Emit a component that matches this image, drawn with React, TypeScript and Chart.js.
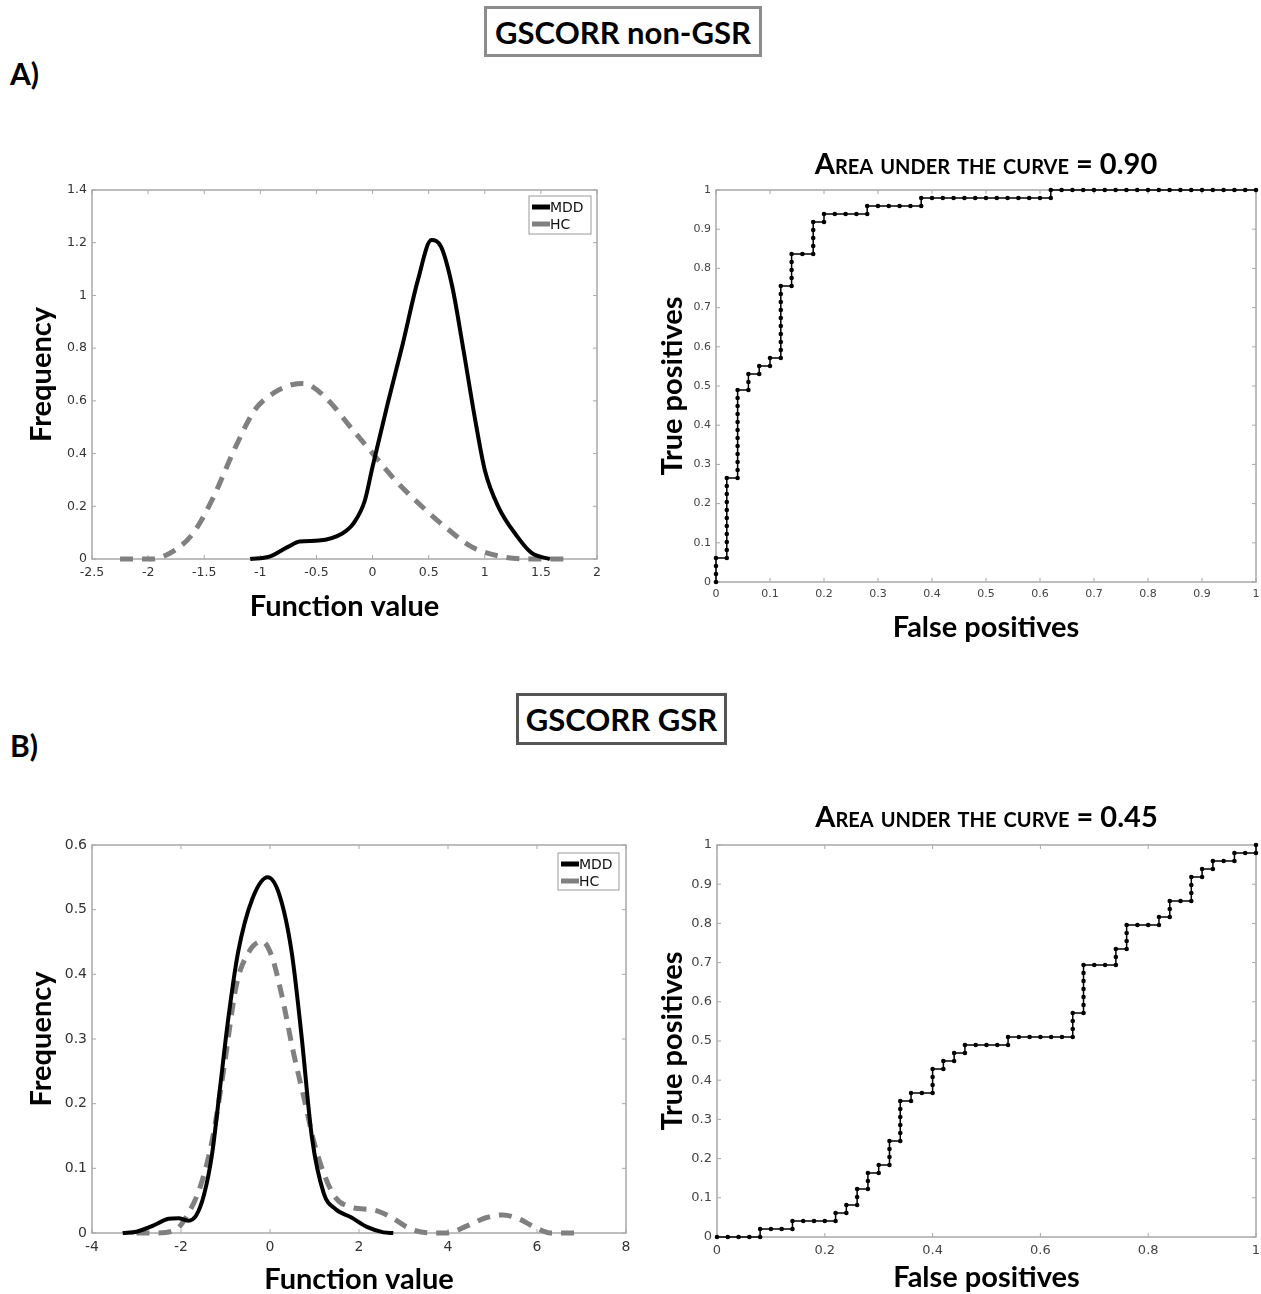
import React, { useEffect, useRef } from "react";
import { Chart, registerables } from "chart.js";

Chart.register(...registerables);

// ---------- Panel A: density of the discriminant function ----------
const densA_MDD_x = [-1.09, -0.92, -0.75, -0.65, -0.48, -0.27, -0.17, -0.07, 0.0, 0.135, 0.27, 0.405, 0.525, 0.61, 0.71, 0.81, 0.915, 1.0, 1.12, 1.29, 1.42, 1.58];
const densA_MDD_y = [0, 0.009, 0.047, 0.066, 0.07, 0.097, 0.135, 0.22, 0.35, 0.59, 0.818, 1.06, 1.21, 1.185, 1.034, 0.793, 0.527, 0.338, 0.199, 0.085, 0.022, 0];
const densA_HC_x = [-2.25, -1.97, -1.76, -1.6, -1.43, -1.22, -1.05, -0.88, -0.71, -0.62, -0.54, -0.37, -0.2, 0.0, 0.2, 0.44, 0.68, 0.88, 1.15, 1.39, 1.73];
const densA_HC_y = [0, 0, 0.034, 0.097, 0.224, 0.426, 0.565, 0.63, 0.662, 0.666, 0.655, 0.591, 0.502, 0.401, 0.3, 0.199, 0.11, 0.047, 0.009, 0, 0];

// ---------- Panel B: density of the discriminant function ----------
const densB_MDD_x = [-3.31, -3.0, -2.64, -2.28, -2.06, -1.84, -1.66, -1.48, -1.3, -1.12, -0.94, -0.72, -0.4, -0.05, 0.22, 0.49, 0.71, 0.94, 1.21, 1.47, 1.83, 2.19, 2.55, 2.77];
const densB_MDD_y = [0, 0.002, 0.011, 0.022, 0.023, 0.019, 0.027, 0.06, 0.123, 0.226, 0.33, 0.433, 0.516, 0.55, 0.521, 0.433, 0.304, 0.149, 0.061, 0.037, 0.024, 0.009, 0.001, 0];
const densB_HC_x = [-3.0, -2.55, -2.1, -1.84, -1.57, -1.3, -1.03, -0.76, -0.49, -0.18, 0.04, 0.27, 0.53, 0.76, 0.98, 1.21, 1.47, 1.83, 2.37, 2.73, 3.17, 3.62, 3.98, 4.43, 4.87, 5.23, 5.59, 5.95, 6.3, 6.84];
const densB_HC_y = [0, 0, 0.006, 0.03, 0.071, 0.143, 0.257, 0.382, 0.433, 0.451, 0.428, 0.366, 0.278, 0.21, 0.143, 0.092, 0.055, 0.04, 0.035, 0.024, 0.006, 0, 0, 0.011, 0.024, 0.028, 0.022, 0.009, 0, 0];

// ---------- ROC curves: (false-positive count, true-positive count) ----------
const ROC_NEGATIVES = 50;
const ROC_POSITIVES = 49;
const rocA_points: [number, number][] = [
  [0, 0], [0, 1], [0, 2], [0, 3], [1, 3], [1, 4], [1, 5], [1, 6], [1, 7], [1, 8], [1, 9], [1, 10], [1, 11], [1, 12], [1, 13],
  [2, 13], [2, 14], [2, 15], [2, 16], [2, 17], [2, 18], [2, 19], [2, 20], [2, 21], [2, 22], [2, 23], [2, 24],
  [3, 24], [3, 25], [3, 26], [4, 26], [4, 27], [5, 27], [5, 28], [6, 28], [6, 29], [6, 30], [6, 31], [6, 32], [6, 33], [6, 34], [6, 35], [6, 36], [6, 37],
  [7, 37], [7, 38], [7, 39], [7, 40], [7, 41], [8, 41], [9, 41], [9, 42], [9, 43], [9, 44], [9, 45], [10, 45], [10, 46],
  [11, 46], [12, 46], [13, 46], [14, 46], [14, 47], [15, 47], [16, 47], [17, 47], [18, 47], [19, 47], [19, 48],
  [20, 48], [21, 48], [22, 48], [23, 48], [24, 48], [25, 48], [26, 48], [27, 48], [28, 48], [29, 48], [30, 48], [31, 48], [31, 49],
  [32, 49], [33, 49], [34, 49], [35, 49], [36, 49], [37, 49], [38, 49], [39, 49], [40, 49], [41, 49], [42, 49], [43, 49], [44, 49], [45, 49], [46, 49], [47, 49], [48, 49], [49, 49], [50, 49],
];
const rocB_points: [number, number][] = [
  [0, 0], [1, 0], [2, 0], [3, 0], [4, 0], [4, 1], [5, 1], [6, 1], [7, 1], [7, 2], [8, 2], [9, 2], [10, 2], [11, 2], [11, 3],
  [12, 3], [12, 4], [13, 4], [13, 5], [13, 6], [14, 6], [14, 7], [14, 8], [15, 8], [15, 9], [16, 9], [16, 10], [16, 11], [16, 12],
  [17, 12], [17, 13], [17, 14], [17, 15], [17, 16], [17, 17], [18, 17], [18, 18], [19, 18], [20, 18], [20, 19], [20, 20], [20, 21],
  [21, 21], [21, 22], [22, 22], [22, 23], [23, 23], [23, 24], [24, 24], [25, 24], [26, 24], [27, 24], [27, 25],
  [28, 25], [29, 25], [30, 25], [31, 25], [32, 25], [33, 25], [33, 26], [33, 27], [33, 28], [34, 28],
  [34, 29], [34, 30], [34, 31], [34, 32], [34, 33], [34, 34], [35, 34], [36, 34], [37, 34], [37, 35], [37, 36],
  [38, 36], [38, 37], [38, 38], [38, 39], [39, 39], [40, 39], [41, 39], [41, 40], [42, 40], [42, 41], [42, 42],
  [43, 42], [44, 42], [44, 43], [44, 44], [44, 45], [45, 45], [45, 46], [46, 46], [46, 47], [47, 47], [48, 47], [48, 48], [49, 48], [50, 48], [50, 49],
];

const seriesLabels = ["MDD", "HC"];
const aucA = "Area under the curve = 0.90";
const aucB = "Area under the curve = 0.45";

const BIG_FONT = "Lato, 'Open Sans', sans-serif";
const TICK_FONT = "'DejaVu Sans', sans-serif";

const fmtTick = (v: any) => `${Math.round(Number(v) * 100) / 100}`;

// frame + inward ticks (MATLAB-like box)
const framePlugin = {
  id: "frameBox",
  beforeDatasetsDraw(chart: any) {
    const { ctx, chartArea } = chart;
    const { left, right, top, bottom } = chartArea;
    ctx.save();
    ctx.strokeStyle = "#a8a8a8";
    ctx.lineWidth = 1.5;
    ctx.setLineDash([]);
    ctx.strokeRect(left, top, right - left, bottom - top);
    ctx.lineWidth = 1;
    const xs = chart.scales.x;
    const ys = chart.scales.y;
    const tl = 4;
    xs.ticks.forEach((t: any) => {
      const px = xs.getPixelForValue(t.value);
      ctx.beginPath();
      ctx.moveTo(px, bottom); ctx.lineTo(px, bottom - tl);
      ctx.moveTo(px, top); ctx.lineTo(px, top + tl);
      ctx.stroke();
    });
    ys.ticks.forEach((t: any) => {
      const py = ys.getPixelForValue(t.value);
      ctx.beginPath();
      ctx.moveTo(left, py); ctx.lineTo(left + tl, py);
      ctx.moveTo(right, py); ctx.lineTo(right - tl, py);
      ctx.stroke();
    });
    ctx.restore();
  },
};

// boxed legend inside the plot, top-right
const boxLegendPlugin = {
  id: "boxLegend",
  afterDraw(chart: any, _args: any, opts: any) {
    if (!opts || !opts.show) return;
    const { ctx, chartArea } = chart;
    const w = opts.width, h = opts.height;
    const x0 = chartArea.right - opts.inset - w;
    const y0 = chartArea.top + opts.top;
    ctx.save();
    ctx.fillStyle = "#fff";
    ctx.fillRect(x0, y0, w, h);
    ctx.strokeStyle = "#9a9a9a";
    ctx.lineWidth = 1;
    ctx.strokeRect(x0, y0, w, h);
    ctx.font = `14px ${TICK_FONT}`;
    ctx.textBaseline = "middle";
    chart.data.datasets.forEach((ds: any, i: number) => {
      const cy = y0 + 11 + i * 17;
      ctx.strokeStyle = ds.borderColor;
      ctx.lineWidth = 5;
      ctx.setLineDash([]);
      ctx.beginPath();
      ctx.moveTo(x0 + 3, cy);
      ctx.lineTo(x0 + 21, cy);
      ctx.stroke();
      ctx.fillStyle = "#111";
      ctx.fillText(ds.label, x0 + 21, cy + 1);
    });
    ctx.restore();
  },
};

// small-caps title above the ROC plot
const capsTitlePlugin = {
  id: "capsTitle",
  afterDraw(chart: any, _args: any, opts: any) {
    if (!opts || !opts.text) return;
    const { ctx, chartArea } = chart;
    ctx.save();
    ctx.font = `small-caps bold ${opts.size}px ${BIG_FONT}`;
    try { (ctx as any).fontVariantCaps = "small-caps"; } catch (e) {}
    ctx.fillStyle = "#000";
    ctx.textAlign = "center";
    ctx.textBaseline = "middle";
    ctx.fillText(opts.text, (chartArea.left + chartArea.right) / 2, opts.y);
    ctx.restore();
  },
};

function toXY(xs: number[], ys: number[]) {
  return xs.map((x, i) => ({ x, y: ys[i] }));
}
function rocXY(pts: [number, number][]) {
  return pts.map(([fp, tp]) => ({ x: fp / ROC_NEGATIVES, y: tp / ROC_POSITIVES }));
}

type Spec = { left: number; top: number; width: number; height: number; config: any };

function ChartBox({ spec }: { spec: Spec }) {
  const ref = useRef<HTMLCanvasElement | null>(null);
  useEffect(() => {
    if (!ref.current) return;
    const chart = new Chart(ref.current, spec.config);
    return () => chart.destroy();
  }, []);
  return (
    <canvas
      ref={ref}
      width={spec.width}
      height={spec.height}
      style={{ position: "absolute", left: spec.left, top: spec.top, width: spec.width, height: spec.height }}
    />
  );
}

function axisTick(size: number, color: string) {
  return { font: { family: TICK_FONT, size }, color, callback: fmtTick };
}

const titleFont = (size: number) => ({ family: BIG_FONT, size, weight: "bold", lineHeight: 1 });

function densityConfig(opts: {
  mddX: number[]; mddY: number[]; hcX: number[]; hcY: number[];
  xMin: number; xMax: number; xStep: number; yMax: number; yStep: number;
  padTop: number; padRight: number; yWidth: number; xHeight: number;
  legend: any; xTitlePad: number; yTitlePad: number; tickSize: number;
}) {
  return {
    type: "line",
    data: {
      datasets: [
        {
          label: seriesLabels[0],
          data: toXY(opts.mddX, opts.mddY),
          borderColor: "#000000",
          borderWidth: 4,
          pointRadius: 0,
          cubicInterpolationMode: "monotone",
          clip: false,
          fill: false,
        },
        {
          label: seriesLabels[1],
          data: toXY(opts.hcX, opts.hcY),
          borderColor: "#808080",
          borderWidth: 5,
          borderDash: [13, 9],
          pointRadius: 0,
          cubicInterpolationMode: "monotone",
          clip: false,
          fill: false,
        },
      ],
    },
    options: {
      animation: false,
      responsive: false,
      devicePixelRatio: 1,
      layout: { padding: { top: opts.padTop, right: opts.padRight, left: 0, bottom: 0 } },
      plugins: {
        legend: { display: false },
        tooltip: { enabled: false },
        boxLegend: opts.legend,
      },
      scales: {
        x: {
          type: "linear",
          min: opts.xMin,
          max: opts.xMax,
          grid: { display: false, drawTicks: false },
          border: { display: false },
          ticks: { ...axisTick(opts.tickSize, "#333"), stepSize: opts.xStep, padding: 6, maxRotation: 0, autoSkip: false },
          title: {
            display: true,
            text: "Function value",
            font: titleFont(29),
            color: "#000",
            padding: { top: 0, bottom: opts.xTitlePad },
          },
          afterFit: (s: any) => { s.height = opts.xHeight; s.paddingRight = 0; },
        },
        y: {
          type: "linear",
          min: 0,
          max: opts.yMax,
          grid: { display: false, drawTicks: false },
          border: { display: false },
          ticks: { ...axisTick(opts.tickSize, "#333"), stepSize: opts.yStep, padding: 5 },
          title: {
            display: true,
            text: "Frequency",
            font: titleFont(29),
            color: "#000",
            padding: { top: opts.yTitlePad, bottom: 0 },
          },
          afterFit: (s: any) => { s.width = opts.yWidth; },
        },
      },
    },
    plugins: [framePlugin, boxLegendPlugin],
  };
}

function rocConfig(opts: {
  pts: [number, number][]; xStep: number; title: string; titleY: number;
  padTop: number; padRight: number; yWidth: number; xHeight: number;
  xTitlePad: number; yTitlePad: number; tickSize: number;
}) {
  return {
    type: "line",
    data: {
      datasets: [
        {
          label: "ROC",
          data: rocXY(opts.pts),
          borderColor: "#000",
          borderWidth: 1.5,
          pointRadius: 2.3,
          pointBackgroundColor: "#000",
          pointBorderColor: "#000",
          pointBorderWidth: 0,
          tension: 0,
          clip: false,
          fill: false,
        },
      ],
    },
    options: {
      animation: false,
      responsive: false,
      devicePixelRatio: 1,
      layout: { padding: { top: opts.padTop, right: opts.padRight, left: 0, bottom: 0 } },
      plugins: {
        legend: { display: false },
        tooltip: { enabled: false },
        capsTitle: { text: opts.title, y: opts.titleY, size: 29 },
      },
      scales: {
        x: {
          type: "linear",
          min: 0,
          max: 1,
          grid: { display: false, drawTicks: false },
          border: { display: false },
          ticks: { ...axisTick(opts.tickSize, "#444"), stepSize: opts.xStep, padding: 6, maxRotation: 0, autoSkip: false },
          title: {
            display: true,
            text: "False positives",
            font: titleFont(29),
            color: "#000",
            padding: { top: 0, bottom: opts.xTitlePad },
          },
          afterFit: (s: any) => { s.height = opts.xHeight; s.paddingRight = 0; },
        },
        y: {
          type: "linear",
          min: 0,
          max: 1,
          grid: { display: false, drawTicks: false },
          border: { display: false },
          ticks: { ...axisTick(opts.tickSize, "#444"), stepSize: 0.1, padding: 5 },
          title: {
            display: true,
            text: "True positives",
            font: titleFont(29),
            color: "#000",
            padding: { top: opts.yTitlePad, bottom: 0 },
          },
          afterFit: (s: any) => { s.width = opts.yWidth; },
        },
      },
    },
    plugins: [framePlugin, capsTitlePlugin],
  };
}

const specs: Spec[] = [
  // Panel A density: chart area 92..597 x 190..559 (page)
  {
    left: 0, top: 150, width: 620, height: 480,
    config: densityConfig({
      mddX: densA_MDD_x, mddY: densA_MDD_y, hcX: densA_HC_x, hcY: densA_HC_y,
      xMin: -2.5, xMax: 2, xStep: 0.5, yMax: 1.4, yStep: 0.2,
      padTop: 40, padRight: 23, yWidth: 92, xHeight: 71,
      legend: { show: true, width: 62, height: 38, inset: 6, top: 6 },
      xTitlePad: 9, yTitlePad: 27, tickSize: 12.5,
    }),
  },
  // Panel A ROC: chart area 716..1256 x 190..582
  {
    left: 640, top: 140, width: 621, height: 510,
    config: rocConfig({
      pts: rocA_points, xStep: 0.1, title: aucA, titleY: 25,
      padTop: 50, padRight: 5, yWidth: 76, xHeight: 68, xTitlePad: 8, yTitlePad: 18, tickSize: 11,
    }),
  },
  // Panel B density: chart area 92..626 x 845..1233
  {
    left: 0, top: 800, width: 640, height: 494,
    config: densityConfig({
      mddX: densB_MDD_x, mddY: densB_MDD_y, hcX: densB_HC_x, hcY: densB_HC_y,
      xMin: -4, xMax: 8, xStep: 2, yMax: 0.6, yStep: 0.1,
      padTop: 45, padRight: 14, yWidth: 92, xHeight: 61,
      legend: { show: true, width: 61, height: 37, inset: 7, top: 8 },
      xTitlePad: 0, yTitlePad: 27, tickSize: 14,
    }),
  },
  // Panel B ROC: chart area 717..1256 x 845..1237
  {
    left: 640, top: 790, width: 621, height: 504,
    config: rocConfig({
      pts: rocB_points, xStep: 0.2, title: aucB, titleY: 28,
      padTop: 55, padRight: 5, yWidth: 77, xHeight: 57, xTitlePad: 2, yTitlePad: 18, tickSize: 13,
    }),
  },
];

const headStyle: React.CSSProperties = {
  position: "absolute",
  boxSizing: "border-box",
  display: "flex",
  alignItems: "center",
  justifyContent: "center",
  fontFamily: BIG_FONT,
  fontWeight: 700,
  fontSize: 31,
  color: "#000",
  background: "#fff",
};

export default function App() {
  return (
    <div style={{ position: "absolute", left: 0, top: 0, width: 1261, height: 1294, background: "#fff", overflow: "hidden" }}>
      <div style={{ ...headStyle, left: 484, top: 6, width: 278, height: 51, border: "3px solid #8c8c8c" }}>GSCORR non-GSR</div>
      <div style={{ position: "absolute", left: 10, top: 56, fontFamily: BIG_FONT, fontWeight: 700, fontSize: 30, lineHeight: "34px" }}>A)</div>
      <div style={{ ...headStyle, left: 516, top: 693, width: 211, height: 52, border: "3px solid #555" }}>GSCORR GSR</div>
      <div style={{ position: "absolute", left: 10, top: 728, fontFamily: BIG_FONT, fontWeight: 700, fontSize: 30, lineHeight: "34px" }}>B)</div>
      {specs.map((s, i) => (
        <ChartBox key={i} spec={s} />
      ))}
    </div>
  );
}
